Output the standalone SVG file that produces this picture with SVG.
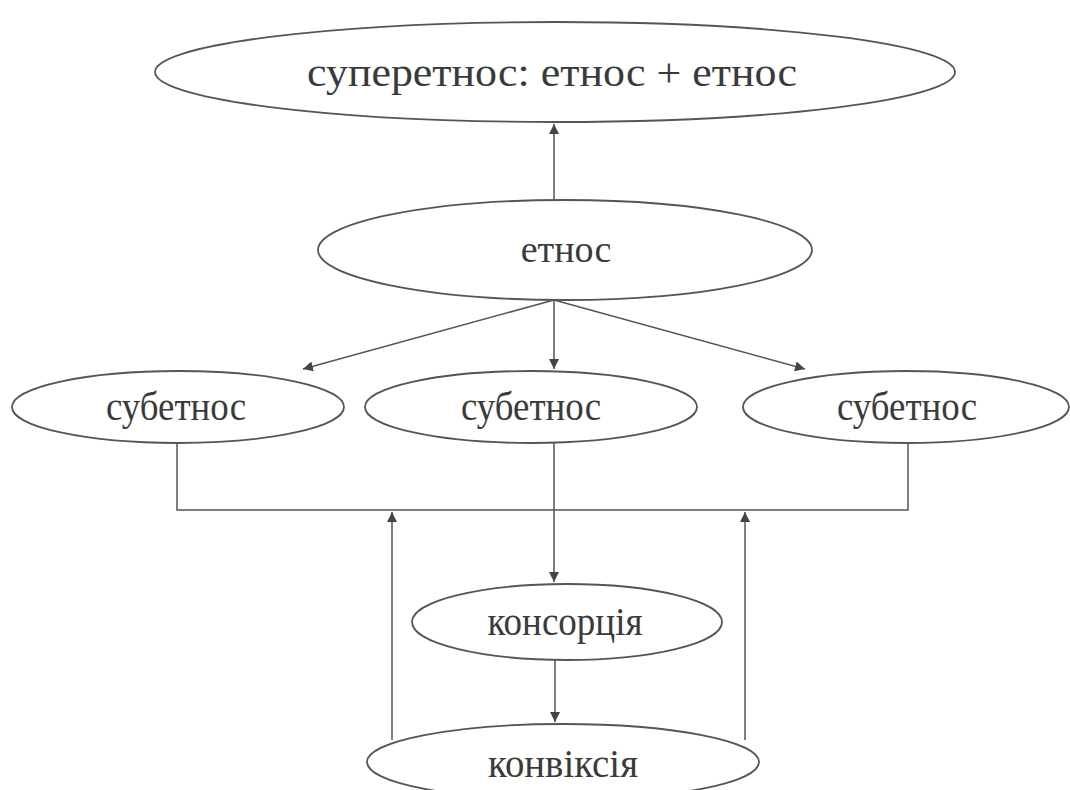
<svg xmlns="http://www.w3.org/2000/svg" width="1070" height="790" viewBox="0 0 1070 790">
<style>
.n{fill:#fff;stroke:#555;stroke-width:1.8}
.t{font-family:"Liberation Serif","Times New Roman",serif;fill:#3a3a3a;text-anchor:middle}
.c{fill:none;stroke:#555;stroke-width:1.5}
</style>
<defs>
<marker id="ah" viewBox="0 0 10 10" refX="10" refY="5" markerWidth="10" markerHeight="10" markerUnits="userSpaceOnUse" orient="auto">
<path d="M0,0 L10,5 L0,10 Z" fill="#444"/>
</marker>
</defs>
<rect width="1070" height="790" fill="#fff"/>
<g id="connectors">
<line class="c" x1="554" y1="200" x2="554" y2="124" marker-end="url(#ah)"/>
<line class="c" x1="554" y1="300" x2="303" y2="369" marker-end="url(#ah)"/>
<line class="c" x1="554" y1="300" x2="554" y2="369" marker-end="url(#ah)"/>
<line class="c" x1="554" y1="300" x2="805" y2="369" marker-end="url(#ah)"/>
<polyline class="c" points="177,443 177,510 908,510 908,443"/>
<line class="c" x1="554" y1="443" x2="554" y2="582" marker-end="url(#ah)"/>
<line class="c" x1="392" y1="740" x2="392" y2="512" marker-end="url(#ah)"/>
<line class="c" x1="745" y1="740" x2="745" y2="512" marker-end="url(#ah)"/>
<line class="c" x1="555" y1="660" x2="555" y2="722" marker-end="url(#ah)"/>
</g>
<g id="superethnos">
<ellipse class="n" cx="555" cy="72" rx="400" ry="50"/>
<text class="t" x="552" y="86" font-size="40" textLength="490" lengthAdjust="spacingAndGlyphs">суперетнос: етнос + етнос</text>
</g>
<g id="ethnos">
<ellipse class="n" cx="565" cy="250" rx="247" ry="50"/>
<text class="t" x="566" y="262" font-size="38">етнос</text>
</g>
<g id="subethnos1">
<ellipse class="n" cx="178" cy="407" rx="166" ry="36"/>
<text class="t" x="176" y="420" font-size="40" textLength="140" lengthAdjust="spacingAndGlyphs">субетнос</text>
</g>
<g id="subethnos2">
<ellipse class="n" cx="531" cy="407" rx="166" ry="36"/>
<text class="t" x="531" y="420" font-size="40" textLength="140" lengthAdjust="spacingAndGlyphs">субетнос</text>
</g>
<g id="subethnos3">
<ellipse class="n" cx="906" cy="407" rx="163" ry="36"/>
<text class="t" x="907" y="420" font-size="40" textLength="140" lengthAdjust="spacingAndGlyphs">субетнос</text>
</g>
<g id="consortium">
<ellipse class="n" cx="567" cy="622" rx="155" ry="38"/>
<text class="t" x="565" y="635" font-size="40" textLength="155" lengthAdjust="spacingAndGlyphs">консорція</text>
</g>
<g id="convixia">
<ellipse class="n" cx="563" cy="762" rx="196" ry="38"/>
<text class="t" x="563" y="777" font-size="40" textLength="150" lengthAdjust="spacingAndGlyphs">конвіксія</text>
</g>
</svg>
